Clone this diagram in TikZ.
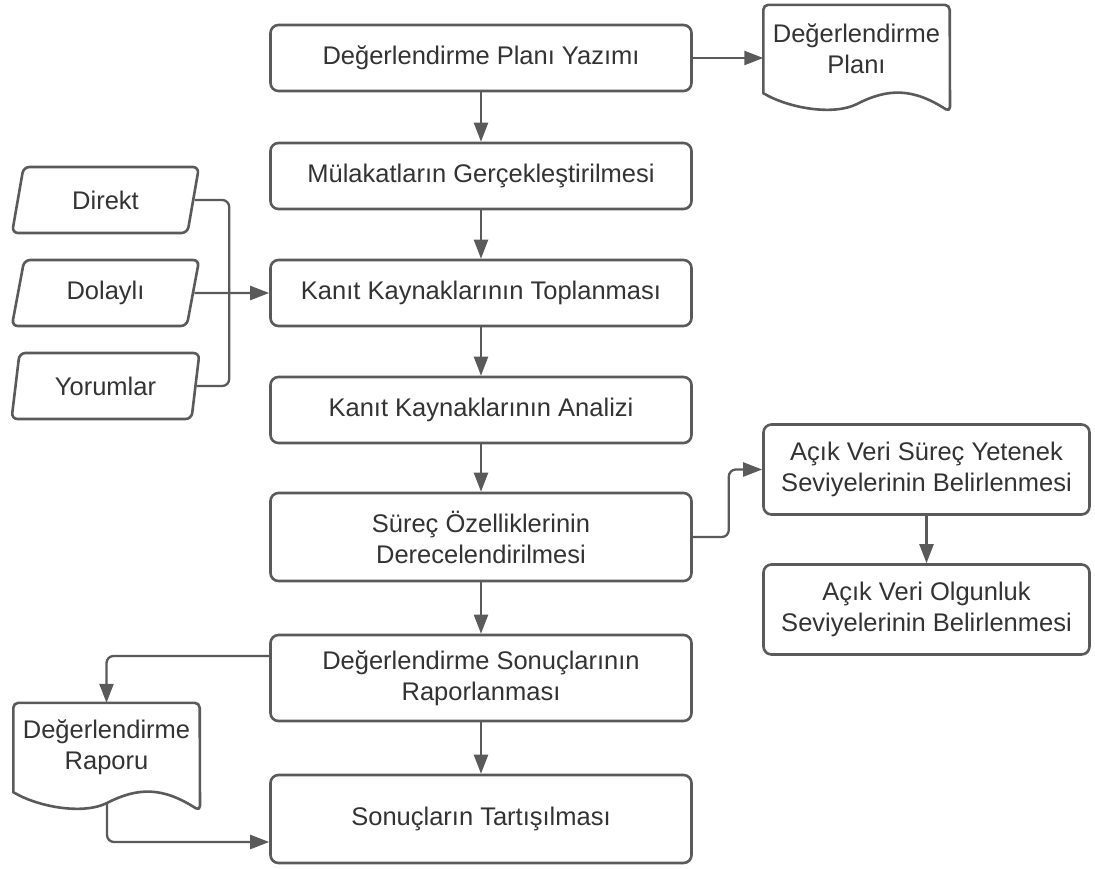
\documentclass[tikz,border=0pt]{standalone}
\usepackage{fontspec}
\setmainfont{Liberation Sans}
\usetikzlibrary{shapes.geometric,arrows.meta}
\definecolor{linec}{HTML}{5A5A5A}
\definecolor{txt}{HTML}{333333}
\begin{document}
\begin{tikzpicture}[x=1pt,y=-1pt,
  lbl/.style={text=txt,align=center,font=\fontsize{25.5}{31}\selectfont},
  box/.style={lbl,draw=linec,line width=2.6pt,rounded corners=8pt,fill=white,
    minimum width=421pt,inner sep=0pt},
  sidebox/.style={box,minimum width=326pt,minimum height=90pt},
  inbox/.style={lbl,draw=linec,line width=2.6pt,rounded corners=6pt,
    trapezium,trapezium left angle=76,trapezium right angle=104,
    trapezium stretches=true,minimum width=188pt,minimum height=66pt,inner sep=0pt},
  docbox/.style={lbl,minimum width=186pt,inner sep=0pt},
  docline/.style={draw=linec,line width=2.6pt,line join=round,rounded corners=5pt},
  conn/.style={draw=linec,line width=2.3pt,rounded corners=7pt},
  arr/.style={conn,-{Triangle[length=19pt,width=14pt]}}]

\useasboundingbox (0,0) rectangle (1095,868);

% main process column
\node[box,minimum height=66pt] (b1) at (481,58)  {Değerlendirme Planı Yazımı};
\node[box,minimum height=66pt] (b2) at (481,176) {Mülakatların Gerçekleştirilmesi};
\node[box,minimum height=66pt] (b3) at (481,293) {Kanıt Kaynaklarının Toplanması};
\node[box,minimum height=66pt] (b4) at (481,410) {Kanıt Kaynaklarının Analizi};
\node[box,minimum height=88pt] (b5) at (481,537) {Süreç Özelliklerinin\\Derecelendirilmesi};
\node[box,minimum height=86pt] (b6) at (481,678) {Değerlendirme Sonuçlarının\\Raporlanması};
\node[box,minimum height=88pt] (b7) at (481,819) {Sonuçların Tartışılması};

% capability / maturity column
\node[sidebox] (r1) at (926.5,469.5) {Açık Veri Süreç Yetenek\\Seviyelerinin Belirlenmesi};
\node[sidebox] (r2) at (926.5,609.5) {Açık Veri Olgunluk\\Seviyelerinin Belirlenmesi};

% evidence inputs
\node[inbox] (in1) at (105.5,200) {Direkt};
\node[inbox] (in2) at (105.5,293) {Dolaylı};
\node[inbox] (in3) at (105.5,386) {Yorumlar};

% documents with a wavy lower edge
\node[docbox,minimum height=88pt] (dp) at (856.5,49) {Değerlendirme\\Planı};
\draw[docline] (dp.south west) -- (dp.north west) -- (dp.north east) -- (950,112)
  [rounded corners=0pt] .. controls (913,88) and (888,88) .. (857,104)
  .. controls (833,116) and (788,108) .. (dp.south west) -- cycle;
\node[docbox,minimum height=89pt] (dr) at (106.5,747.5) {Değerlendirme\\Raporu};
\draw[docline] (dr.south west) -- (dr.north west) -- (dr.north east) -- (200,811)
  [rounded corners=0pt] .. controls (163,787) and (138,787) .. (107,803)
  .. controls (83,815) and (38,807) .. (dr.south west) -- cycle;
\coordinate (drb) at (107,803);

% flow
\draw[arr] (b1.south) -- (b2.north);
\draw[arr] (b2.south) -- (b3.north);
\draw[arr] (b3.south) -- (b4.north);
\draw[arr] (b4.south) -- (b5.north);
\draw[arr] (b5.south) -- (b6.north);
\draw[arr] (b6.south) -- (b7.north);
\draw[arr] (b1.east) -- (b1.east -| dp.west);
\draw[arr] (b5.east) -- ++(36,0) |- (r1.west);
\draw[arr] (r1.south) -- (r2.north);

\coordinate (jn) at ([xshift=-40pt]b3.west);
\draw[conn] (in1.east) -| (jn);
\draw[conn] (in3.east) -| (jn);
\draw[arr] (in2.east) -- (b3.west);

\coordinate (b6out) at ([yshift=22pt]b6.west);
\draw[arr] (b6out) -| (dr.north);
\coordinate (b7in) at ([yshift=-23pt]b7.west);
\draw[arr] (drb) |- (b7in);
\end{tikzpicture}
\end{document}
